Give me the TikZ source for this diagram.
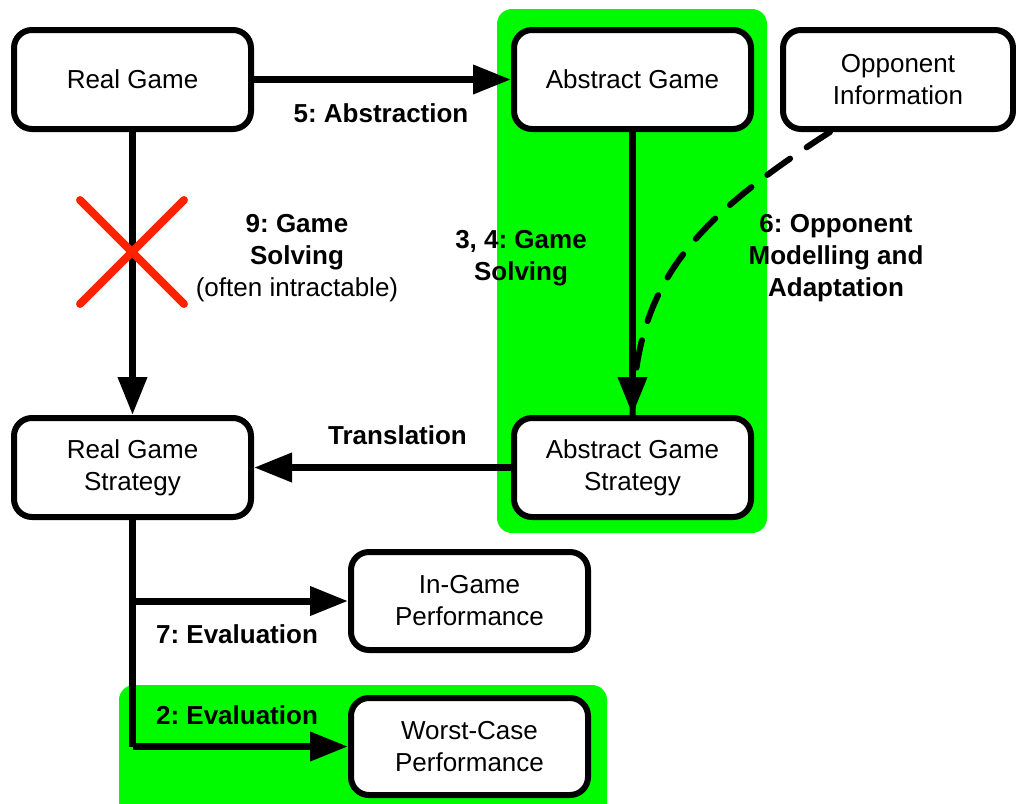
\documentclass[tikz,border=0pt]{standalone}
\usepackage{fontspec}
\setmainfont{Liberation Sans}
\usetikzlibrary{arrows.meta}
\definecolor{hlgreen}{RGB}{0,250,0}
\definecolor{xred}{RGB}{255,34,0}
\frenchspacing
\begin{document}
\begin{tikzpicture}[x=1pt,y=-1pt,
  every node/.style={font=\fontsize{26}{32}\selectfont},
  box/.style={draw, line width=6pt, rounded corners=18pt, fill=white,
    minimum width=237pt, minimum height=99pt, align=center, inner sep=0pt},
  conn/.style={line width=7pt, -{Triangle[length=38pt,width=28pt]}},
  lbl/.style={align=center, font=\fontsize{26}{32}\selectfont\bfseries},
  hl/.style={fill=hlgreen, rounded corners=15pt}]
\useasboundingbox (0,0) rectangle (1016,803);
% highlight regions
\fill[hl] (497,9) rectangle (767,533);
\fill[hl] (119,685) rectangle (607,830);
% boxes
\node[box] (rg) at (132.5,79.5) {Real Game};
\node[box] (ag) at (632.5,79.5) {Abstract Game};
\node[box, minimum width=230pt] (oi) at (898,79.5) {Opponent\\Information};
\node[box] (rgs) at (132.5,467.5) {Real Game\\Strategy};
\node[box] (ags) at (632.5,467.5) {Abstract Game\\Strategy};
\node[box, minimum height=98pt] (igp) at (469.5,601) {In-Game\\Performance};
\node[box, minimum height=97pt] (wcp) at (469.5,746.5) {Worst-Case\\Performance};
% connectors
\draw[conn] (rg) -- (ag);
\draw[conn] (rg) -- (rgs);
\draw[conn] (ag) -- (ags);
\draw[conn] (ags) -- (rgs);
\coordinate (c1) at (rgs.south |- igp.west);
\coordinate (c2) at (rgs.south |- wcp.west);
\draw[line width=7pt] (rgs.south) -- (c2);
\draw[conn] (c1) -- (igp.west);
\draw[conn, line join=round] (c2) -- (wcp.west);
\draw[line width=6pt, dash pattern=on 28pt off 20pt, line cap=round]
  ([xshift=-68pt]oi.south) .. controls (690,222) and (636,285) .. (ags.north);
% red cross
\draw[xred, line width=8pt, line cap=round] (80,200) -- (184,304);
\draw[xred, line width=8pt, line cap=round] (80,304) -- (184,200);
% labels
\node[lbl] (l5) at (381,113) {5: Abstraction};
\node[align=center] (l9) at (297,258) {\textbf{9: Game}\\\textbf{Solving}\\(often intractable)};
\node[lbl] (l34) at (521,258) {3, 4: Game\\Solving};
\node[lbl] (l6) at (836,258) {6: Opponent\\Modelling and\\Adaptation};
\node[lbl] (ltr) at (397.5,435) {Translation};
\node[lbl] (l7) at (237,634) {7: Evaluation};
\node[lbl] (l2) at (237,715) {2: Evaluation};
\end{tikzpicture}
\end{document}
